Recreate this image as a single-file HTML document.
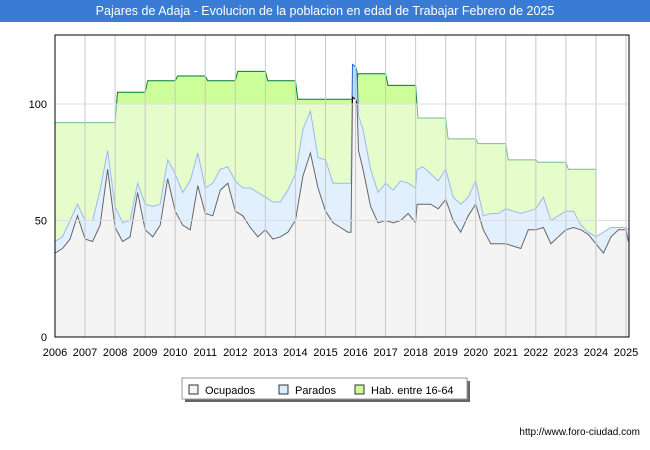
<!DOCTYPE html>
<html><head><meta charset="utf-8"><style>
body{margin:0;width:650px;height:450px;background:#fff;font-family:"Liberation Sans",sans-serif;position:relative;overflow:hidden}
#title{position:absolute;left:0;top:0;width:650px;height:22px;background:#3a7bd5;color:#fff;font-size:12.5px;line-height:22px;text-align:center}
#url{position:absolute;right:10px;top:427px;font-size:10px;color:#000}
svg{position:absolute;left:0;top:0}
</style></head><body>
<div id="title">Pajares de Adaja - Evolucion de la poblacion en edad de Trabajar Febrero de 2025</div>
<svg id="chart" width="650" height="450"></svg>
<div id="url">http://www.foro-ciudad.com</div>
<script>
const yearTicks=[2006,2007,2008,2009,2010,2011,2012,2013,2014,2015,2016,2017,2018,2019,2020,2021,2022,2023,2024,2025];
const yTicks=[0,50,100];
const habYears=[2006,2007,2008,2009,2010,2011,2012,2013,2014,2015,2016,2017,2018,2019,2020,2021,2022,2023];
const habValues=[92,92,105,110,112,110,114,110,102,102,113,108,94,85,83,76,75,72];
const dates=[2006,2006.25,2006.5,2006.75,2007,2007.25,2007.5,2007.75,2008,2008.25,2008.5,2008.75,2009,2009.25,2009.5,2009.75,2010,2010.25,2010.5,2010.75,2011,2011.25,2011.5,2011.75,2012,2012.25,2012.5,2012.75,2013,2013.25,2013.5,2013.75,2014,2014.25,2014.5,2014.75,2015,2015.25,2015.5,2015.75,2015.85,2015.9,2016,2016.05,2016.1,2016.25,2016.5,2016.75,2017,2017.25,2017.5,2017.75,2018,2018.05,2018.25,2018.5,2018.75,2019,2019.25,2019.5,2019.75,2020,2020.25,2020.5,2020.75,2021,2021.25,2021.5,2021.75,2022,2022.25,2022.5,2022.75,2023,2023.25,2023.5,2023.75,2024,2024.25,2024.5,2024.75,2025,2025.08];
const ocupados=[36,38,42,52,42,41,48,72,47,41,43,62,46,43,48,68,54,48,46,65,53,52,63,66,54,52,47,43,46,42,43,45,50,69,79,64,54,49,47,45,45,103,102,100,80,72,56,49,50,49,50,53,49,57,57,57,55,59,50,45,52,57,46,40,40,40,39,38,46,46,47,40,43,46,47,46,44,40,36,43,46,46,41];
const parados=[5,5,8,5,8,9,15,8,9,8,7,4,11,13,9,8,16,14,21,14,11,14,9,7,13,12,17,19,14,16,15,18,20,20,18,13,22,17,19,21,21,14,14,14,15,17,16,13,16,14,17,13,15,15,16,13,12,13,10,12,8,10,6,13,13,15,15,15,8,9,13,10,9,8,7,2,1,3,9,4,1,1,5];

const NS="http://www.w3.org/2000/svg";
const svg=document.getElementById('chart');
const L=55,R=629,T=35,B=337;
const X=v=>L+(v-2006)*(626-55)/19;
const Y=v=>B-v*(B-104)/100;
function mk(tag,attrs,parent){const e=document.createElementNS(NS,tag);for(const k in attrs)e.setAttribute(k,attrs[k]);(parent||svg).appendChild(e);return e;}

const defs=mk('defs',{});
const cA=mk('clipPath',{id:'above'},defs);mk('rect',{x:L,y:T,width:R-L,height:Y(100)-T},cA);
const cB=mk('clipPath',{id:'below'},defs);mk('rect',{x:L,y:Y(100),width:R-L,height:B-Y(100)},cB);
const cP=mk('clipPath',{id:'plot'},defs);mk('rect',{x:L,y:T,width:R-L,height:B-T},cP);

const habPts=[];
habYears.forEach((yr,i)=>{const x0=i===0?yr:yr+0.08;habPts.push([x0,habValues[i]]);habPts.push([yr+1,habValues[i]]);});
const lastYear=habYears[habYears.length-1]+1;
const idx24=dates.indexOf(lastYear);
habPts.push([lastYear,ocupados[idx24]+parados[idx24]]);
const topPts=dates.map((d,i)=>[d,ocupados[i]+parados[i]]);
const ocPts=dates.map((d,i)=>[d,ocupados[i]]);
const line=p=>p.map((q,i)=>(i?'L':'M')+X(q[0]).toFixed(1)+','+Y(q[1]).toFixed(1)).join('');
const area=p=>line(p)+'L'+X(p[p.length-1][0]).toFixed(1)+','+B+'L'+X(p[0][0]).toFixed(1)+','+B+'Z';

const bg=mk('rect',{x:L,y:T,width:R-L,height:B-T,fill:'#fff'});


const layers=[
 {p:habPts,fb:'#e6fccb',fa:'#ccff99',lb:'#77bb99',la:'#007a33',n:'hab'},
 {p:topPts,fb:'#e2f0fd',fa:'#bcdcfb',lb:'#99bbee',la:'#2266cc',n:'parados'},
 {p:ocPts,fb:'#f4f4f4',fa:'#f4f4f4',lb:'#666',la:'#000',n:'ocupados'}
];
const g=mk('g',{'clip-path':'url(#plot)'});
layers.forEach(s=>{
 [['below',s.fb,s.lb],['above',s.fa,s.la]].forEach(([c,f,l])=>{
  const gg=mk('g',{'clip-path':'url(#'+c+')'},g);
  const a=mk('path',{d:area(s.p),fill:f,stroke:'none'},gg);
  
  const ln=mk('path',{d:line(s.p),fill:'none',stroke:l,'stroke-width':1},gg);
  
 });
});
yearTicks.forEach(y=>{
 const gl=mk('line',{x1:X(y),x2:X(y),y1:T,y2:B,stroke:'#c8c8c8','stroke-width':1});
 
 const t=mk('text',{x:X(y),y:356,'font-size':11,'text-anchor':'middle',fill:'#000'});
 t.textContent=y;
 
});
yTicks.forEach(v=>{
 if(v>0){const gl=mk('line',{x1:L,x2:R,y1:Y(v),y2:Y(v),stroke:'#dddddd','stroke-width':1});
 }
 const t=mk('text',{x:47,y:Y(v)+4,'font-size':11,'text-anchor':'end',fill:'#000'});
 t.textContent=v;
 
});
const fr=mk('rect',{x:L,y:T,width:R-L,height:B-T,fill:'none',stroke:'#000','stroke-width':1});


const lg=mk('g',{});

mk('rect',{x:185,y:381,width:285,height:21,fill:'#666'},lg);
mk('rect',{x:182,y:378,width:285,height:21,fill:'#fff',stroke:'#999'},lg);
[['Ocupados','#f4f4f4',189],['Parados','#dbeeff',279],['Hab. entre 16-64','#ccff99',355]].forEach(([n,c,x])=>{
 const e=mk('g',{},lg);
 
 mk('rect',{x:x,y:385,width:9,height:9,fill:c,stroke:'#333'},e);
 const t=mk('text',{x:x+16,y:394,'font-size':11,fill:'#000'},e);t.textContent=n;
});
</script>
</body></html>
